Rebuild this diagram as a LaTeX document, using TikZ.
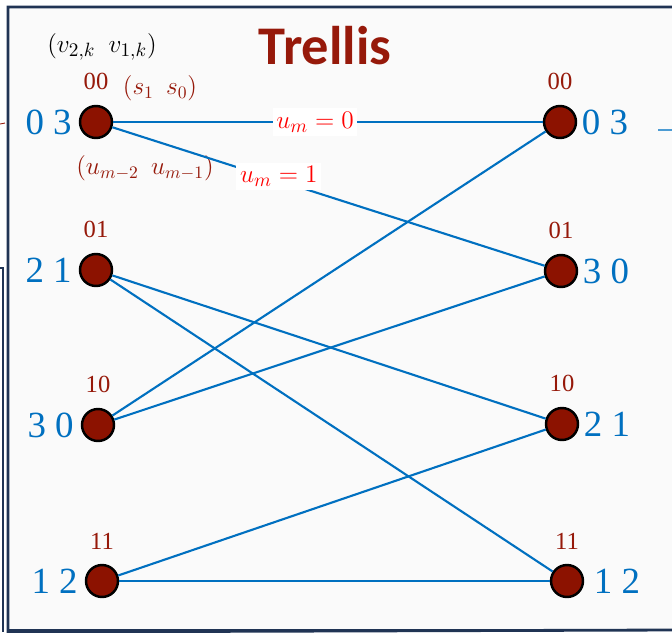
\documentclass[tikz,border=0pt]{standalone}
\usepackage{fontspec}
\setmainfont{Liberation Serif}
\newfontfamily\numfont{Liberation Serif}
\newfontfamily\titlefont{Carlito}
\usetikzlibrary{positioning}
\definecolor{trelblue}{RGB}{0,112,192}
\definecolor{staterd}{RGB}{140,18,0}
\definecolor{lblred}{RGB}{150,25,10}
\definecolor{framenavy}{RGB}{32,52,84}
\definecolor{panelgray}{RGB}{250,250,250}

\begin{document}
\begin{tikzpicture}[
  x=0.02cm, y=-0.02cm,
  state/.style={circle, draw=black, line width=1.4pt, fill=staterd, minimum size=0.64cm, inner sep=0pt},
  outlbl/.style={text=trelblue, font=\numfont\fontsize{21}{24}\selectfont, inner sep=1pt},
  statelbl/.style={text=lblred, font=\numfont\fontsize{14}{16}\selectfont, inner sep=1pt},
  ulbl/.style={text=red, fill=white, font=\fontsize{15}{17}\selectfont, inner sep=2pt},
  branch/.style={draw=trelblue, line width=1.2pt}
]
\useasboundingbox (0,0) rectangle (672,632);
% frames
\draw[framenavy, line width=1pt] (0,268) -- (3,268) -- (3,632);
\draw[framenavy, line width=1.6pt, fill=panelgray] (8,632) -- (8,7) -- (675,7) -- (675,630) -- cycle;
\draw[framenavy, line width=1.2pt] (8,630) -- (675,630);
\draw[lblred, line width=0.5pt, dashed] (0,124) -- (5,123);
\draw[trelblue!70, line width=0.6pt] (658,130) -- (672,130);

% title and headers
\node[text=lblred, font=\titlefont\bfseries\fontsize{31}{34}\selectfont] (title) at (325,46) {Trellis};
\node[font=\fontsize{15}{17}\selectfont] (vhead) at (102,47) {$(v_{2,k}\ \ v_{1,k})$};
\node[text=lblred, font=\fontsize{14}{16}\selectfont] (shead) at (160,88) {$(s_1\ \ s_0)$};
\node[text=lblred, font=\fontsize{14}{16}\selectfont] (uhead) at (145,168) {$(u_{m-2}\ \ u_{m-1})$};

% states at time m
\node[state] (l00) at (96,122) {};
\node[state] (l01) at (96,270) {};
\node[state] (l10) at (98,425) {};
\node[state] (l11) at (102,581) {};
% states at time m+1
\node[state] (r00) at (560,122) {};
\node[state] (r01) at (561,271) {};
\node[state] (r10) at (562,424) {};
\node[state] (r11) at (567,581) {};

\node[statelbl, above=2.5mm of l00] (ls00) {00};
\node[statelbl, above=2.5mm of l01] (ls01) {01};
\node[statelbl, above=2.5mm of l10] (ls10) {10};
\node[statelbl, above=2.5mm of l11] (ls11) {11};
\node[statelbl, above=2.5mm of r00] (rs00) {00};
\node[statelbl, above=2.5mm of r01] (rs01) {01};
\node[statelbl, above=2.5mm of r10] (rs10) {10};
\node[statelbl, above=2.5mm of r11] (rs11) {11};

\node[outlbl, left=1mm of l00] (lo00) {0 3};
\node[outlbl, left=1mm of l01] (lo01) {2 1};
\node[outlbl, left=1mm of l10] (lo10) {3 0};
\node[outlbl, left=1mm of l11] (lo11) {1 2};
\node[outlbl, right=0.5mm of r00] (ro00) {0 3};
\node[outlbl, right=0.5mm of r01] (ro01) {3 0};
\node[outlbl, right=0.5mm of r10] (ro10) {2 1};
\node[outlbl, right=1.5mm of r11] (ro11) {1 2};

% branches
\draw[branch] (l00) -- node[ulbl, pos=0.47] {$u_m=0$} (r00);
\draw[branch] (l00) -- node[ulbl, pos=0.385, yshift=0.8mm] {$u_m=1$} (r01);
\draw[branch] (l01) -- (r10);
\draw[branch] (l01) -- (r11);
\draw[branch] (l10) -- (r00);
\draw[branch] (l10) -- (r01);
\draw[branch] (l11) -- (r10);
\draw[branch] (l11) -- (r11);
\end{tikzpicture}
\end{document}
